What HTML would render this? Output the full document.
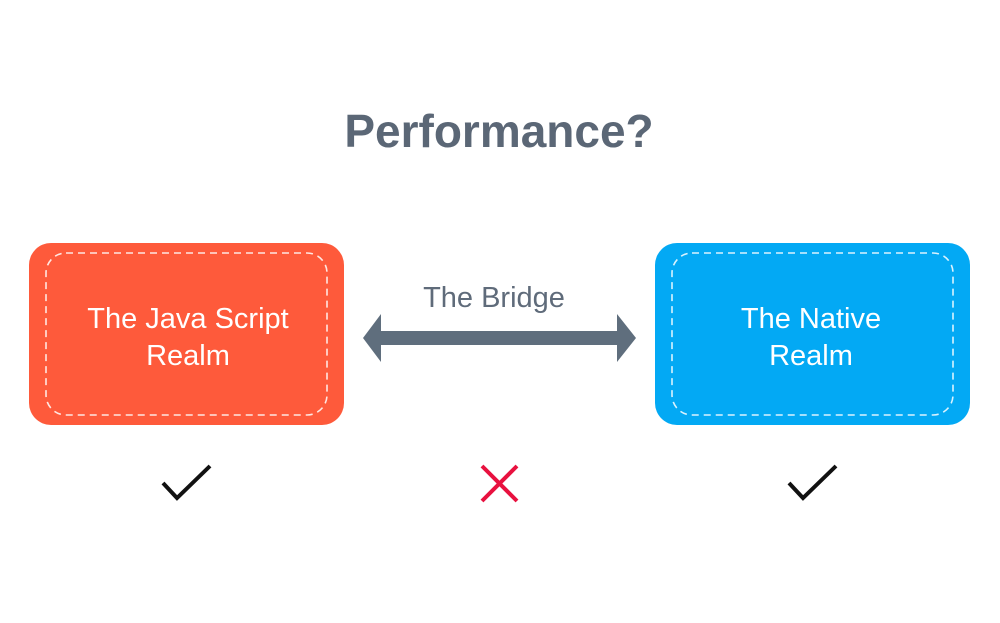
<!DOCTYPE html>
<html><head><style>
body{margin:0;width:1000px;height:618px;background:#fff;overflow:hidden}
</style></head><body>
<svg width="1000" height="618" xmlns="http://www.w3.org/2000/svg">
<text x="499" y="147" text-anchor="middle" font-family="Liberation Sans, sans-serif" font-size="46" font-weight="bold" fill="#5b6776">Performance?</text>
<rect x="29" y="243" width="315" height="182" rx="22" fill="#fe5a3b"/>
<rect x="46" y="253" width="281" height="162" rx="20" fill="none" stroke="#fff" stroke-opacity="0.85" stroke-width="1.6" stroke-dasharray="7,5"/>
<text font-family="Liberation Sans, sans-serif" font-size="29" fill="#fff" text-anchor="middle"><tspan x="188" y="328">The Java Script</tspan><tspan x="188" y="365">Realm</tspan></text>
<rect x="655" y="243" width="315" height="182" rx="22" fill="#03a9f4"/>
<rect x="672" y="253" width="281" height="162" rx="20" fill="none" stroke="#fff" stroke-opacity="0.85" stroke-width="1.6" stroke-dasharray="7,5"/>
<text font-family="Liberation Sans, sans-serif" font-size="29" fill="#fff" text-anchor="middle"><tspan x="811" y="328">The Native</tspan><tspan x="811" y="365">Realm</tspan></text>
<text x="494" y="307" text-anchor="middle" font-family="Liberation Sans, sans-serif" font-size="29" fill="#5f6b7a">The Bridge</text>
<polygon points="363,338 381,314 381,331 617,331 617,314 636,338 617,362 617,345 381,345 381,362" fill="#5f6e7d"/>
<polyline points="163,483 177,498 210,466" fill="none" stroke="#111" stroke-width="4"/>
<polyline points="789,483 803,498 836,466" fill="none" stroke="#111" stroke-width="4"/>
<path d="M482,466 L517,501 M517,466 L482,501" stroke="#e8113f" stroke-width="4"/>
</svg>
</body></html>
